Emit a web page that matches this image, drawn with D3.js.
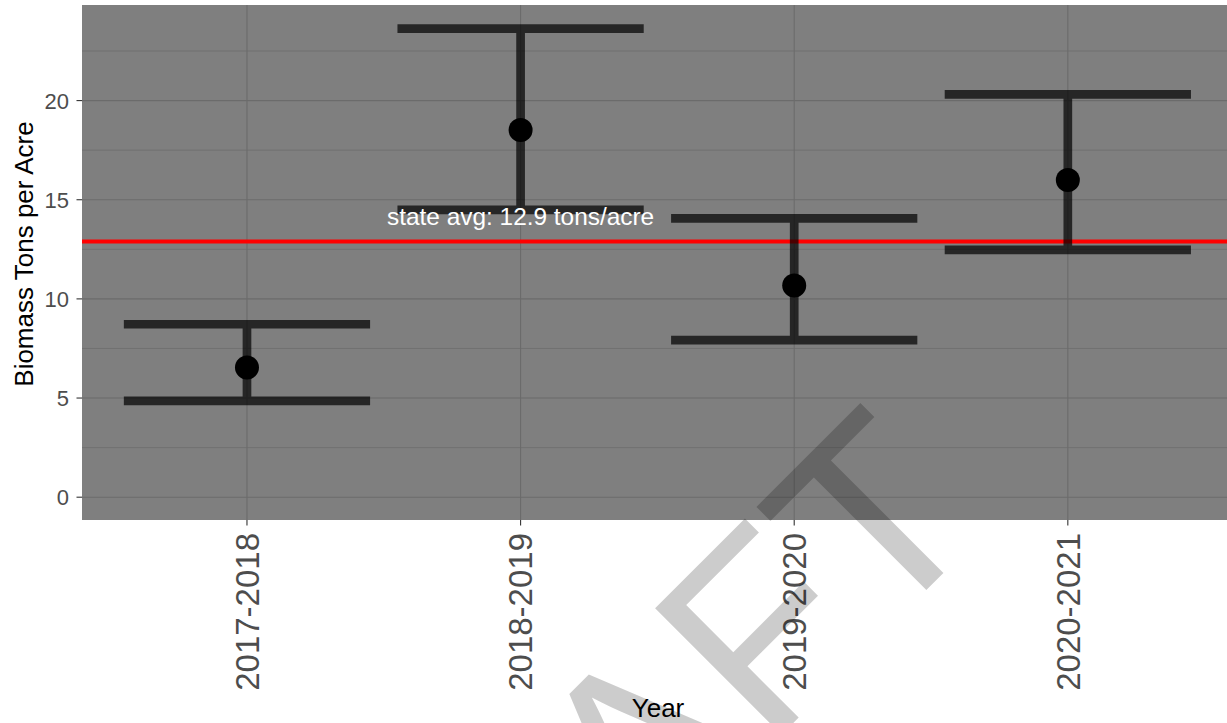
<!DOCTYPE html>
<html>
<head>
<meta charset="utf-8">
<script src="https://cdn.jsdelivr.net/npm/d3@7"></script>
<style>
  html, body { margin: 0; padding: 0; background: #ffffff; }
  svg { display: block; font-family: "Liberation Sans", Arial, sans-serif; }
</style>
</head>
<body>
<svg id="chart" width="1227" height="723"></svg>
<script>
// Biomass estimates per season, with lower / upper interval bounds
const years = ["2017-2018", "2018-2019", "2019-2020", "2020-2021"];
const biomassMean = [6.54, 18.52, 10.68, 16.0];
const biomassLower = [4.86, 14.49, 7.92, 12.47];
const biomassUpper = [8.72, 23.63, 14.06, 20.31];
const stateAvg = 12.9;
const yTicks = [0, 5, 10, 15, 20];
const yMinorTicks = [2.5, 7.5, 12.5, 17.5, 22.5];
const watermark = "DRAFT";

const W = 1227, H = 723;
// the plotting panel runs slightly past the right edge of the canvas
const panel = { left: 82, right: 1232, top: 5, bottom: 520 };

const svg = d3.select("#chart");

const x = d3.scalePoint()
  .domain(years)
  .range([panel.left + 0.8, panel.right])
  .padding(0.6);

const y = d3.scaleLinear()
  .domain([-1.15, 24.82])
  .range([panel.bottom, panel.top]);

const step = x.step();
const halfBar = 0.45 * step;

// panel background
svg.append("rect")
  .attr("x", panel.left).attr("y", panel.top)
  .attr("width", panel.right - panel.left)
  .attr("height", panel.bottom - panel.top)
  .attr("fill", "#7f7f7f");

// grid lines
const grid = svg.append("g");
grid.selectAll("line.minor")
  .data(yMinorTicks).join("line")
  .attr("class", "minor")
  .attr("x1", panel.left).attr("x2", panel.right)
  .attr("y1", d => y(d)).attr("y2", d => y(d))
  .attr("stroke", "#717171").attr("stroke-width", 1);
grid.selectAll("line.majory")
  .data(yTicks).join("line")
  .attr("class", "majory")
  .attr("x1", panel.left).attr("x2", panel.right)
  .attr("y1", d => y(d)).attr("y2", d => y(d))
  .attr("stroke", "#6b6b6b").attr("stroke-width", 1.1);
grid.selectAll("line.majorx")
  .data(years).join("line")
  .attr("class", "majorx")
  .attr("x1", d => x(d)).attr("x2", d => x(d))
  .attr("y1", panel.top).attr("y2", panel.bottom)
  .attr("stroke", "#6b6b6b").attr("stroke-width", 1.1);

// state average reference line
svg.append("line")
  .attr("x1", panel.left).attr("x2", panel.right)
  .attr("y1", y(stateAvg)).attr("y2", y(stateAvg))
  .attr("stroke", "#ff0000").attr("stroke-width", 4);

// error bars, each as one path so overlaps do not darken
const rows = years.map((yr, i) => ({
  year: yr, mean: biomassMean[i], lo: biomassLower[i], hi: biomassUpper[i]
}));

svg.append("g").selectAll("path")
  .data(rows).join("path")
  .attr("d", d => {
    const cx = x(d.year);
    return `M${cx - halfBar},${y(d.hi)}H${cx + halfBar}` +
           `M${cx},${y(d.hi)}V${y(d.lo)}` +
           `M${cx - halfBar},${y(d.lo)}H${cx + halfBar}`;
  })
  .attr("fill", "none")
  .attr("stroke", "#000000")
  .attr("stroke-opacity", 0.7)
  .attr("stroke-width", 8.7)
  .attr("stroke-linecap", "butt");

// mean points
svg.append("g").selectAll("circle")
  .data(rows).join("circle")
  .attr("cx", d => x(d.year))
  .attr("cy", d => y(d.mean))
  .attr("r", 12)
  .attr("fill", "#000000");

// reference line label
svg.append("text")
  .attr("x", x(years[1]))
  .attr("y", y(stateAvg) - 16)
  .attr("text-anchor", "middle")
  .attr("font-size", 24.4)
  .attr("fill", "#ffffff")
  .text(`state avg: ${stateAvg} tons/acre`);

// y axis ticks and labels
const yAxis = svg.append("g");
yAxis.selectAll("line")
  .data(yTicks).join("line")
  .attr("x1", panel.left - 5.5).attr("x2", panel.left)
  .attr("y1", d => y(d)).attr("y2", d => y(d))
  .attr("stroke", "#333333").attr("stroke-width", 1.1);
yAxis.selectAll("text")
  .data(yTicks).join("text")
  .attr("x", panel.left - 13)
  .attr("y", d => y(d))
  .attr("dy", "0.36em")
  .attr("text-anchor", "end")
  .attr("font-size", 22)
  .attr("fill", "#4d4d4d")
  .text(d => d);

// x axis ticks and rotated labels
const xAxis = svg.append("g");
xAxis.selectAll("line")
  .data(years).join("line")
  .attr("x1", d => x(d)).attr("x2", d => x(d))
  .attr("y1", panel.bottom).attr("y2", panel.bottom + 5.5)
  .attr("stroke", "#333333").attr("stroke-width", 1.1);
xAxis.selectAll("text")
  .data(years).join("text")
  .attr("transform", d => `translate(${x(d)},${panel.bottom + 13}) rotate(-90)`)
  .attr("dy", "0.36em")
  .attr("text-anchor", "end")
  .attr("font-size", 33)
  .attr("fill", "#4d4d4d")
  .text(d => d);

// axis titles
svg.append("text")
  .attr("transform", `translate(33,254) rotate(-90)`)
  .attr("text-anchor", "middle")
  .attr("font-size", 26)
  .attr("fill", "#000000")
  .text("Biomass Tons per Acre");

svg.append("text")
  .attr("x", 658)
  .attr("y", 717)
  .attr("text-anchor", "middle")
  .attr("font-size", 26)
  .attr("fill", "#000000")
  .text("Year");

// diagonal watermark
svg.append("text")
  .attr("transform", "translate(684.7,831.6) rotate(-45)")
  .attr("text-anchor", "middle")
  .attr("font-size", 260)
  .attr("fill", "#000000")
  .attr("fill-opacity", 0.2)
  .text(watermark);
</script>
</body>
</html>
